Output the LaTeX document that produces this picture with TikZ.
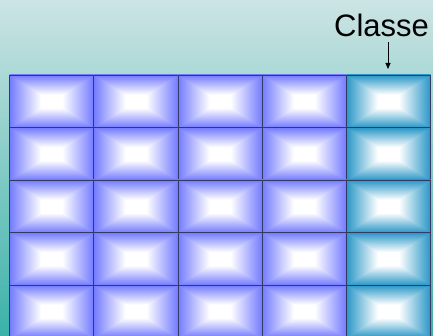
\documentclass[tikz,border=0pt]{standalone}
\usepackage{fontspec}
\newfontfamily\lsans{Liberation Sans}
\usetikzlibrary{arrows.meta}
\definecolor{bgtop}{RGB}{204,228,228}
\definecolor{bgbot}{RGB}{58,178,168}
\definecolor{cellline}{RGB}{52,58,100}
\pgfdeclarefunctionalshading{cellblue}{\pgfpoint{-50bp}{-50bp}}{\pgfpoint{50bp}{50bp}}{}{
abs exch abs 2 copy lt {exch} if pop 25 div 0.25 sub 0.75 div
dup 0 lt {pop 0} if dup 1 gt {pop 1} if
dup 0.55 mul 1 exch sub
exch dup 0.52 mul 1 exch sub
exch 0.0 mul 1 exch sub
}
\pgfdeclarefunctionalshading{cellteal}{\pgfpoint{-50bp}{-50bp}}{\pgfpoint{50bp}{50bp}}{}{
abs exch abs 2 copy lt {exch} if pop 25 div 0.25 sub 0.75 div
dup 0 lt {pop 0} if dup 1 gt {pop 1} if
dup 0.84 mul 1 exch sub
exch dup 0.41 mul 1 exch sub
exch 0.22 mul 1 exch sub
}
\begin{document}
\begin{tikzpicture}[x=1pt,y=-1pt,
  cellbase/.style={draw=cellline, line width=0.7pt, minimum width=84.2pt,
    minimum height=52.5pt, inner sep=0pt, outer sep=0pt, shade},
  cellbox/.style={cellbase, shading=cellblue},
  cellcyan/.style={cellbase, shading=cellteal},
  label/.style={font=\lsans\fontsize{31}{37}\selectfont, anchor=base, inner sep=0pt},
  pointer/.style={-{Triangle[length=6pt,width=5pt]}, line width=0.9pt, black}]
\useasboundingbox (0,0) rectangle (433,336);
\clip (0,0) rectangle (433,336);
\shade[top color=bgtop, bottom color=bgbot] (0,0) rectangle (433,336);
\foreach \i in {0,...,4}{
  \foreach \j in {0,...,3}{
    \node[cellbox] (c\i\j) at ({51.6+84.2*\j},{101.25+52.5*\i}) {};
  }
  \node[cellcyan] (c\i4) at (388.4,{101.25+52.5*\i}) {};
}
\node[label] (classe) at (381.5,37) {Classe};
\coordinate (tip) at (388,69);
\draw[pointer] ([yshift=-5pt]classe.south -| tip) -- (tip);
\end{tikzpicture}
\end{document}
